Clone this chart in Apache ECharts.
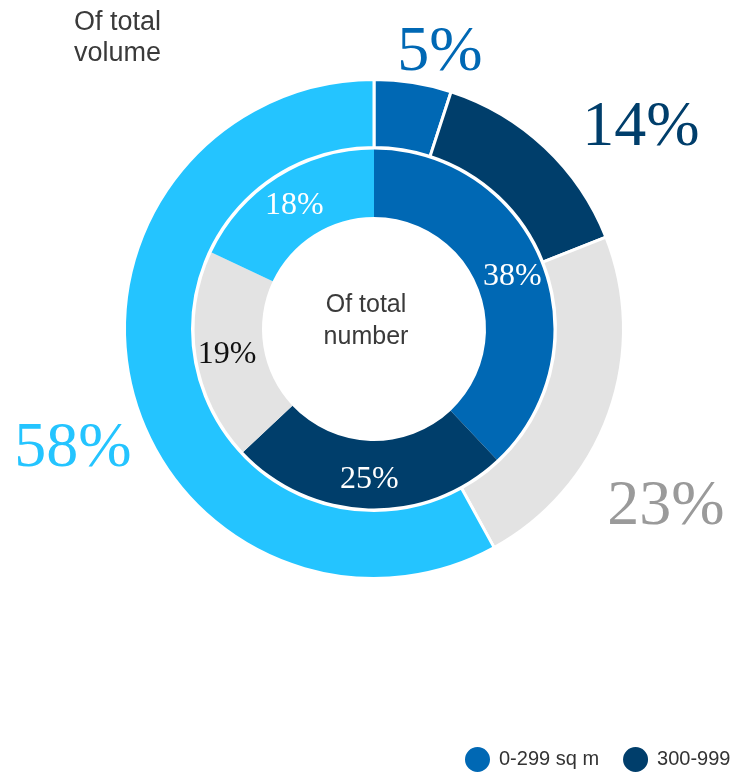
<!DOCTYPE html>
<html>
<head>
<meta charset="utf-8">
<script src="https://cdn.jsdelivr.net/npm/echarts@6/dist/echarts.min.js"></script>
<style>
  html, body { margin: 0; padding: 0; background: #ffffff; }
  #chart { width: 730px; height: 772px; }
</style>
</head>
<body>
<div id="chart"></div>
<script>
// ---- data ----
const categories = ['0-299 sq m', '300-999 sq m', '1,000-4,999 sq m', '5,000+ sq m'];
const volumeShare = [5, 14, 23, 58];   // outer ring: of total volume
const numberShare = [38, 25, 19, 18];  // inner ring: of total number
const outerTitle = 'Of total\nvolume';
const innerTitle = 'Of total\nnumber';

// ---- styles ----
const palette = ['#0068b4', '#003e6b', '#e3e3e3', '#24c4ff'];
const outerLabelColors = ['#0068b4', '#003e6b', '#9a9a9a', '#24c4ff'];
const innerLabelColors = ['#ffffff', '#ffffff', '#111111', '#ffffff'];
const outerLabelPos = [[440, 53], [641, 128], [666, 507], [73, 449]];

const chart = echarts.init(document.getElementById('chart'), null, { renderer: 'canvas' });

const option = {
  animation: false,
  color: palette,
  backgroundColor: '#ffffff',
  legend: {
    data: categories,
    left: 463,
    top: 745,
    width: 1200,
    padding: 0,
    icon: 'circle',
    itemWidth: 27,
    itemHeight: 27,
    itemGap: 22,
    selectedMode: false,
    textStyle: { fontFamily: 'Liberation Sans', fontSize: 20, color: '#333333', padding: [0, 0, 0, 3] }
  },
  graphic: [
    {
      type: 'text', left: 74, top: 7, silent: true,
      style: { text: outerTitle, fontFamily: 'Liberation Sans', fontSize: 27, lineHeight: 31, fill: '#3a3a3a' }
    },
    {
      type: 'text', x: 366, y: 321, silent: true,
      style: { text: innerTitle, fontFamily: 'Liberation Sans', fontSize: 25, lineHeight: 32, fill: '#3a3a3a', align: 'center', verticalAlign: 'middle' }
    }
  ],
  series: [
    {
      name: 'Of total volume',
      type: 'pie',
      center: [374, 329],
      radius: [181.5, 249.5],
      startAngle: 90,
      clockwise: true,
      avoidLabelOverlap: false,
      emphasis: { disabled: true },
      itemStyle: { borderColor: '#ffffff', borderWidth: 3 },
      label: {
        show: true,
        position: 'outside',
        formatter: '{c}%',
        fontFamily: 'Liberation Serif',
        fontSize: 64
      },
      labelLine: { show: false },
      labelLayout: function (p) {
        const pos = outerLabelPos[p.dataIndex];
        return { x: pos[0], y: pos[1], align: 'center', verticalAlign: 'middle' };
      },
      data: volumeShare.map((v, i) => ({
        name: categories[i], value: v,
        label: { color: outerLabelColors[i] }
      }))
    },
    {
      name: 'Of total number',
      type: 'pie',
      center: [374, 329],
      radius: [112, 179.5],
      startAngle: 90,
      clockwise: true,
      avoidLabelOverlap: false,
      emphasis: { disabled: true },
      itemStyle: { borderWidth: 0 },
      label: {
        show: true,
        position: 'inside',
        formatter: '{c}%',
        fontFamily: 'Liberation Serif',
        fontSize: 32,
        offset: [0, 2]
      },
      labelLine: { show: false },
      data: numberShare.map((v, i) => ({
        name: categories[i], value: v,
        label: { color: innerLabelColors[i] }
      }))
    }
  ]
};

chart.setOption(option);
</script>
</body>
</html>
